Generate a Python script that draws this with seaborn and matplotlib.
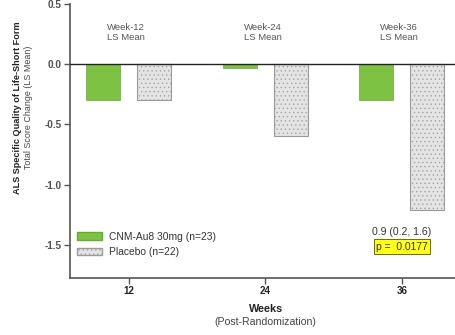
import matplotlib
matplotlib.use("Agg")
import matplotlib.pyplot as plt
import seaborn as sns
import pandas as pd
from matplotlib.patches import Patch

sns.set_theme(style="white")
plt.rcParams["font.family"] = ["Liberation Sans", "DejaVu Sans"]
plt.rcParams["hatch.linewidth"] = 0.4

weeks = ["12", "24", "36"]
groups = ["CNM-Au8 30mg (n=23)", "Placebo (n=22)"]
cnm_values = [-0.30, -0.03, -0.30]
placebo_values = [-0.30, -0.60, -1.21]
week_labels = ["Week-12\nLS Mean", "Week-24\nLS Mean", "Week-36\nLS Mean"]
yticks = [0.5, 0.0, -0.5, -1.0, -1.5]

df = pd.DataFrame({
    "week": weeks * 2,
    "group": [groups[0]] * 3 + [groups[1]] * 3,
    "value": cnm_values + placebo_values,
})

green = "#7dc242"
grey_fill = "#e4e4e4"
grey_edge = "#9a9a9a"
text_grey = "#444444"

fig = plt.figure(figsize=(4.55, 3.35), dpi=100)
ax = fig.add_axes([70 / 455, 1 - 278 / 335, 1 - 70 / 455, (278 - 4) / 335])

sns.barplot(data=df, x="week", y="value", hue="group", order=weeks,
            hue_order=groups, palette=[green, grey_fill], width=0.745,
            gap=0.33, ax=ax, legend=False, errorbar=None, saturation=1)

n = len(weeks)
for i, patch in enumerate(ax.patches):
    if i < n:
        patch.set_edgecolor("#6aa835")
        patch.set_linewidth(0.5)
    else:
        patch.set_edgecolor(grey_edge)
        patch.set_hatch("....")
        patch.set_linewidth(0.8)

ax.axhline(0, color="#222222", lw=1.0, zorder=5)
ax.set_ylim(-1.775, 0.5)
ax.set_xlim(-0.43, 2.39)
ax.set_yticks(yticks)
ax.set_yticklabels([f"{v:.1f}" for v in yticks], fontsize=7.2,
                   fontweight="bold", color="#505050")
ax.set_xticks(range(n))
ax.set_xticklabels(weeks, fontsize=7.0, fontweight="bold", color="#222222")
ax.tick_params(axis="both", direction="out", length=4, width=1.0,
               color="#555555", pad=2, left=True, bottom=True)
for side in ["top", "right"]:
    ax.spines[side].set_visible(False)
for side in ["left", "bottom"]:
    ax.spines[side].set_color("#555555")
    ax.spines[side].set_linewidth(1.2)
ax.set_xlabel("")
ax.set_ylabel("")

for i, lbl in enumerate(week_labels):
    ax.text(i - 0.02, 0.26, lbl, ha="center", va="center", fontsize=6.8,
            color="#555555", linespacing=1.15)

ax.text(2.0, -1.395, "0.9 (0.2, 1.6)", ha="center", va="center",
        fontsize=7.6, color="#333333")
ax.text(2.0, -1.515, "p =  0.0177", ha="center", va="center",
        fontsize=7.4, color="#333333",
        bbox=dict(boxstyle="square,pad=0.22", facecolor="#ffff1a",
                  edgecolor="#555500", linewidth=0.6))

handles = [Patch(facecolor=green, edgecolor="#6aa835", label=groups[0]),
           Patch(facecolor=grey_fill, edgecolor=grey_edge, hatch="....",
                 label=groups[1])]
ax.legend(handles=handles, loc="lower left", bbox_to_anchor=(0.0, 0.05),
          frameon=False, fontsize=7.4, handlelength=2.4, handleheight=0.8,
          handletextpad=0.7, labelcolor="#333333", borderaxespad=0.3,
          labelspacing=0.5)

fig.text(18 / 455, 1 - 108 / 335, "ALS Specific Quality of Life-Short Form",
         rotation=90, ha="center", va="center", fontsize=6.6,
         fontweight="bold", color="#222222")
fig.text(29 / 455, 1 - 107 / 335, "Total Score Change (LS Mean)",
         rotation=90, ha="center", va="center", fontsize=6.4,
         color="#444444")
fig.text(266 / 455, 1 - 309 / 335, "Weeks", ha="center", va="center",
         fontsize=7.8, fontweight="bold", color="#222222")
fig.text(265 / 455, 1 - 322 / 335, "(Post-Randomization)", ha="center",
         va="center", fontsize=7.6, color="#444444")

fig.savefig("out.png", dpi=100)
